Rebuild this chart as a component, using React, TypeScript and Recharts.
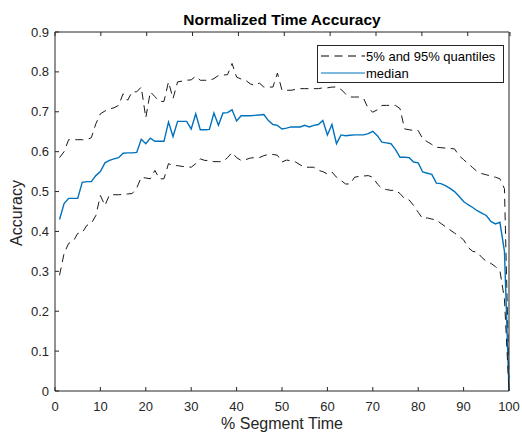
import React from 'react';
import { LineChart, Line, XAxis, YAxis, Legend } from 'recharts';

const FONT = '"Liberation Sans", Arial, Helvetica, sans-serif';
const AXIS = '#262626';
const BLUE = '#0072BD';

// % of segment time (x)
const pct = [
  1, 2, 3, 4, 5, 6, 7, 8, 9, 10,
  11, 12, 13, 14, 15, 16, 17, 18, 19, 20,
  21, 22, 23, 24, 25, 26, 27, 28, 29, 30,
  31, 32, 33, 34, 35, 36, 37, 38, 39, 40,
  41, 42, 43, 44, 45, 46, 47, 48, 49, 50,
  51, 52, 53, 54, 55, 56, 57, 58, 59, 60,
  61, 62, 63, 64, 65, 66, 67, 68, 69, 70,
  71, 72, 73, 74, 75, 76, 77, 78, 79, 80,
  81, 82, 83, 84, 85, 86, 87, 88, 89, 90,
  91, 92, 93, 94, 95, 96, 97, 98, 99, 100,
];

// 95% quantile
const q95 = [
  0.585, 0.6, 0.63, 0.63, 0.63, 0.63, 0.63, 0.635, 0.67, 0.695,
  0.702, 0.707, 0.71, 0.716, 0.745, 0.729, 0.75, 0.75, 0.762, 0.685,
  0.75, 0.738, 0.726, 0.726, 0.775, 0.733, 0.775, 0.777, 0.779, 0.78,
  0.789, 0.779, 0.779, 0.779, 0.783, 0.791, 0.792, 0.793, 0.821, 0.787,
  0.782, 0.779, 0.77, 0.766, 0.772, 0.762, 0.762, 0.762, 0.797, 0.754,
  0.754, 0.754, 0.756, 0.758, 0.758, 0.758, 0.758, 0.758, 0.76, 0.76,
  0.762, 0.762, 0.756, 0.745, 0.737, 0.737, 0.737, 0.733, 0.708, 0.699,
  0.705, 0.716, 0.716, 0.716, 0.716, 0.708, 0.657, 0.655, 0.653, 0.653,
  0.632, 0.625, 0.618, 0.611, 0.61, 0.609, 0.608, 0.607, 0.59, 0.58,
  0.57, 0.56, 0.55, 0.545, 0.542, 0.539, 0.536, 0.532, 0.507, 0.03,
];

// median
const med = [
  0.43, 0.47, 0.483, 0.483, 0.483, 0.523, 0.525, 0.525, 0.54, 0.55,
  0.572, 0.578, 0.582, 0.585, 0.596, 0.597, 0.597, 0.598, 0.631, 0.62,
  0.634, 0.626, 0.626, 0.626, 0.674, 0.638, 0.676, 0.676, 0.676, 0.657,
  0.695, 0.655, 0.655, 0.656, 0.697, 0.666, 0.697, 0.698, 0.705, 0.677,
  0.69, 0.69, 0.69, 0.691, 0.692, 0.693, 0.678, 0.668, 0.666, 0.657,
  0.659, 0.662, 0.662, 0.662, 0.666, 0.662, 0.666, 0.668, 0.678, 0.642,
  0.668, 0.62, 0.642, 0.64, 0.641, 0.642, 0.642, 0.642, 0.645, 0.651,
  0.64, 0.624, 0.622, 0.62, 0.605, 0.586, 0.586, 0.585, 0.574, 0.572,
  0.549, 0.546, 0.543, 0.521, 0.52, 0.515, 0.508, 0.5, 0.488, 0.475,
  0.467, 0.46, 0.452, 0.446, 0.44, 0.425, 0.419, 0.423, 0.35, 0,
];

// 5% quantile
const q05 = [
  0.29, 0.345, 0.37, 0.375, 0.395, 0.397, 0.415, 0.42, 0.44, 0.49,
  0.465, 0.492, 0.492, 0.492, 0.493, 0.494, 0.495, 0.509, 0.536, 0.534,
  0.532, 0.553, 0.532, 0.532, 0.57, 0.565, 0.565, 0.563, 0.562, 0.561,
  0.57, 0.582, 0.578, 0.578, 0.575, 0.575, 0.575, 0.585, 0.598, 0.585,
  0.578, 0.58, 0.584, 0.585, 0.585, 0.59, 0.593, 0.593, 0.591, 0.574,
  0.579, 0.577, 0.574, 0.567, 0.561, 0.561, 0.561, 0.553, 0.55, 0.544,
  0.549, 0.536, 0.528, 0.519, 0.519, 0.536, 0.538, 0.539, 0.54, 0.536,
  0.519, 0.508, 0.505, 0.503, 0.503, 0.495, 0.482, 0.479, 0.465, 0.448,
  0.432, 0.434, 0.431, 0.429, 0.42, 0.412, 0.404, 0.396, 0.388, 0.379,
  0.36, 0.35, 0.348, 0.335, 0.325, 0.32, 0.312, 0.302, 0.23, 0,
];

const xTicks = [0, 10, 20, 30, 40, 50, 60, 70, 80, 90, 100];
const yTicks = [0, 0.1, 0.2, 0.3, 0.4, 0.5, 0.6, 0.7, 0.8, 0.9];

const legendItems = [
  { label: '5% and 95% quantiles', color: '#000', dash: '8 5.5' },
  { label: 'median', color: BLUE, dash: undefined },
];

const data = pct.map((p, i) => ({ pct: p, upper: q95[i], median: med[i], lower: q05[i] }));

const BottomTick = ({ x, y, payload }: any) => (
  <g>
    <line x1={x} x2={x} y1={y} y2={y - 4} stroke={AXIS} />
    <text x={x} y={y + 20} textAnchor="middle" fill={AXIS} fontSize={13} fontFamily={FONT}>
      {payload.value}
    </text>
  </g>
);

const TopTick = ({ x, y }: any) => <line x1={x} x2={x} y1={y} y2={y + 4} stroke={AXIS} />;

const LeftTick = ({ x, y, payload }: any) => (
  <g>
    <line x1={x} x2={x + 4} y1={y} y2={y} stroke={AXIS} />
    <text x={x - 6} y={y + 4.5} textAnchor="end" fill={AXIS} fontSize={13} fontFamily={FONT}>
      {String(payload.value)}
    </text>
  </g>
);

const RightTick = ({ x, y }: any) => <line x1={x} x2={x - 4} y1={y} y2={y} stroke={AXIS} />;

const LegendBox = () => (
  <svg width={187} height={38} style={{ display: 'block' }}>
    <rect x={0.5} y={0.5} width={186} height={37} fill="#fff" stroke={AXIS} />
    {legendItems.map((it, i) => (
      <g key={it.label}>
        <line x1={4} x2={48} y1={11 + i * 17} y2={11 + i * 17} stroke={it.color} strokeWidth={1.2} strokeDasharray={it.dash} />
        <text x={49} y={15.5 + i * 17} fontSize={13} fontFamily={FONT} fill="#000">
          {it.label}
        </text>
      </g>
    ))}
  </svg>
);

export default function App() {
  return (
    <div style={{ position: 'absolute', left: 0, top: 0, width: 522, height: 434, background: '#fff', overflow: 'hidden' }}>
      <LineChart width={522} height={434} data={data} margin={{ top: 31, right: 12, bottom: 42, left: 54 }}>
        <XAxis
          dataKey="pct"
          type="number"
          domain={[0, 100]}
          ticks={xTicks}
          height={1}
          tickSize={0}
          tickMargin={0}
          axisLine={{ stroke: AXIS }}
          tick={<BottomTick />}
        />
        <XAxis
          xAxisId="top"
          orientation="top"
          type="number"
          domain={[0, 100]}
          ticks={xTicks}
          height={1}
          tickSize={0}
          tickMargin={0}
          axisLine={{ stroke: AXIS }}
          tick={<TopTick />}
        />
        <YAxis
          type="number"
          domain={[0, 0.9]}
          ticks={yTicks}
          width={1}
          tickSize={0}
          tickMargin={0}
          axisLine={{ stroke: AXIS }}
          tick={<LeftTick />}
        />
        <YAxis
          yAxisId="right"
          orientation="right"
          type="number"
          domain={[0, 0.9]}
          ticks={yTicks}
          width={1}
          tickSize={0}
          tickMargin={0}
          axisLine={{ stroke: AXIS }}
          tick={<RightTick />}
        />
        <Line dataKey="upper" stroke="#1a1a1a" strokeWidth={1} strokeDasharray="8 5.5" dot={false} isAnimationActive={false} />
        <Line dataKey="median" stroke={BLUE} strokeWidth={1.4} dot={false} isAnimationActive={false} />
        <Line dataKey="lower" stroke="#1a1a1a" strokeWidth={1} strokeDasharray="8 5.5" dot={false} isAnimationActive={false} />
        <Legend
          layout="horizontal"
          verticalAlign="middle"
          align="center"
          content={<LegendBox />}
          wrapperStyle={{ left: 317, top: 45, width: 187, height: 38 }}
        />
      </LineChart>
      <svg width={522} height={434} style={{ position: 'absolute', left: 0, top: 0, pointerEvents: 'none' }}>
        <text x={282} y={25} textAnchor="middle" fontSize={15.5} fontWeight="bold" fontFamily={FONT} fill="#000">
          Normalized Time Accuracy
        </text>
        <text
          transform="translate(22,213) rotate(-90)"
          textAnchor="middle"
          fontSize={16}
          fontFamily={FONT}
          fill={AXIS}
        >
          Accuracy
        </text>
        <text x={282} y={429} textAnchor="middle" fontSize={16} fontFamily={FONT} fill={AXIS}>
          % Segment Time
        </text>
      </svg>
    </div>
  );
}
